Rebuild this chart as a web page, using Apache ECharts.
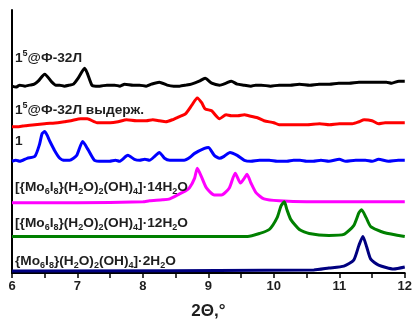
<!DOCTYPE html>
<html>
<head>
<meta charset="UTF-8">
<title>XRD</title>
<script src="https://cdn.jsdelivr.net/npm/echarts@6/dist/echarts.min.js"></script>
<style>
  body { margin: 0; background: #fff; }
  #root { width: 415px; height: 325px; }
</style>
</head>
<body>
<div id="root"></div>
<script>
// 2θ, intensity (arbitrary, offset per pattern)
var blackData = [[6.00,189],[6.06,188],[6.12,190],[6.20,189],[6.27,190],[6.34,191],[6.40,194],[6.50,201],[6.61,193],[6.67,190],[6.73,190],[6.80,189],[6.88,190],[6.94,191],[7.00,196],[7.11,207],[7.22,190],[7.28,189],[7.34,189],[7.45,190],[7.57,190],[7.65,189],[7.72,191],[7.85,190],[7.95,190],[8.05,189],[8.13,191],[8.25,193],[8.37,190],[8.47,189],[8.56,189],[8.66,190],[8.74,191],[8.86,194],[8.95,197],[9.05,192],[9.17,190],[9.27,192],[9.35,194],[9.44,191],[9.55,190],[9.65,189],[9.72,190],[9.81,190],[9.95,189],[10.08,190],[10.25,190],[10.39,191],[10.55,190],[10.69,191],[10.85,191],[10.99,192],[11.15,192],[11.30,193],[11.45,193],[11.60,193],[11.72,193],[11.80,192],[11.91,194],[12.00,194]];
var redData = [[6.00,148],[6.10,148],[6.20,149],[6.35,150],[6.50,151],[6.70,152],[6.80,153],[6.90,154],[7.05,156],[7.15,156],[7.30,152],[7.40,152],[7.50,152],[7.62,153],[7.75,155],[7.90,154],[8.05,154],[8.15,155],[8.25,154],[8.35,153],[8.45,155],[8.55,158],[8.65,161],[8.75,170],[8.83,177],[8.90,172],[8.95,166],[9.05,164],[9.17,156],[9.27,160],[9.35,159],[9.45,159],[9.55,160],[9.62,159],[9.75,157],[9.85,154],[10.00,152],[10.08,150],[10.25,150],[10.50,150],[10.70,151],[10.85,150],[11.00,151],[11.20,151],[11.30,153],[11.38,155],[11.50,154],[11.60,151],[11.70,152],[11.80,152],[12.00,152]];
var blueData = [[6.00,113],[6.06,114],[6.12,113],[6.23,116],[6.35,118],[6.42,130],[6.46,141],[6.50,143],[6.58,133],[6.65,124],[6.73,116],[6.80,114],[6.88,114],[6.94,116],[6.99,119],[7.08,133],[7.16,125],[7.26,114],[7.38,113],[7.49,113],[7.58,114],[7.64,113],[7.77,119],[7.87,115],[7.95,114],[8.03,115],[8.10,114],[8.18,118],[8.25,122],[8.33,116],[8.41,114],[8.52,114],[8.63,114],[8.72,117],[8.79,121],[8.94,126],[9.00,127],[9.09,119],[9.17,116],[9.24,118],[9.33,122],[9.44,119],[9.55,114],[9.65,113],[9.78,114],[9.93,114],[10.05,113],[10.20,113],[10.30,114],[10.40,114],[10.50,113],[10.60,113],[10.72,114],[10.84,113],[11.00,115],[11.10,113],[11.25,114],[11.40,114],[11.50,113],[11.60,115],[11.75,113],[11.90,114],[12.00,114]];
var magentaData = [[6.00,71],[7.00,71],[8.00,72],[8.10,73],[8.30,74],[8.41,75],[8.56,80],[8.65,83],[8.71,86],[8.79,96],[8.83,106],[8.89,98],[8.97,86],[9.09,79],[9.20,79],[9.32,86],[9.41,101],[9.49,91],[9.55,96],[9.59,100],[9.65,91],[9.73,81],[9.85,75],[10.08,73],[10.50,72],[12.00,72]];
var greenData = [[6.00,37],[9.60,37],[9.78,40],[9.93,44],[10.05,56],[10.11,68],[10.16,72],[10.20,64],[10.26,54],[10.39,44],[10.54,40],[10.84,38],[11.07,39],[11.22,48],[11.30,61],[11.34,64],[11.41,56],[11.48,47],[11.68,41],[12.00,37]];
var navyData = [[6.00,2],[10.61,3],[10.84,5],[11.07,7],[11.22,13],[11.30,28],[11.36,37],[11.42,26],[11.48,14],[11.60,8],[11.83,4],[12.00,6]];

var names = ['1⁵@Ф-32Л', '1⁵@Ф-32Л выдерж.', '1', '14H2O', '12H2O', '2H2O'];
var colors = ['#000000', '#ff0000', '#0000ff', '#ff00ff', '#008000', '#000080'];
var allData = [blackData, redData, blueData, magentaData, greenData, navyData];

var chart = echarts.init(document.getElementById('root'));

var series = allData.map(function (d, i) {
  return {
    name: names[i],
    type: 'line',
    data: d,
    showSymbol: false,
    silent: true,
    smooth: 0.2,
    lineStyle: { color: colors[i], width: 3 },
    z: 2 + i
  };
});

var txtColor = '#1e1e1e';
var fam = 'Liberation Sans';
var rich = {
  m: { fontSize: 13.7, fontWeight: 'bold', fontFamily: fam, color: txtColor, lineHeight: 18 },
  s: { fontSize: 9, fontWeight: 'bold', fontFamily: fam, color: txtColor, verticalAlign: 'bottom', lineHeight: 11 },
  p: { fontSize: 9, fontWeight: 'bold', fontFamily: fam, color: txtColor, verticalAlign: 'top', lineHeight: 11 }
};

function lab(text, y) {
  return {
    type: 'text',
    left: 15,
    top: y - 9,
    z: 20,
    style: { text: text, rich: rich, font: 'bold 13.7px "Liberation Sans"', fill: txtColor }
  };
}

// "}" can't sit inside a rich token, so it goes between tokens as plain text
var moHead = '{m|[{Mo}{s|6}{m|I}{s|8}}{m|(H}{s|2}{m|O)}{s|2}{m|(OH)}{s|4}';

chart.setOption({
  animation: false,
  grid: { left: 12, right: 9, top: 10, bottom: 49 },
  xAxis: {
    type: 'value',
    min: 6,
    max: 12,
    interval: 1,
    axisLine: { lineStyle: { color: '#000', width: 2 } },
    axisTick: { length: 5, lineStyle: { color: '#000', width: 1.5 } },
    minorTick: { show: true, splitNumber: 2, length: 5, lineStyle: { color: '#000', width: 1.5 } },
    splitLine: { show: false },
    axisLabel: { color: txtColor, fontSize: 13, fontWeight: 'bold', fontFamily: fam, margin: 7 },
    name: '2Θ,°',
    nameLocation: 'middle',
    nameGap: 30,
    nameTextStyle: { color: txtColor, fontSize: 17, fontWeight: 'bold', fontFamily: fam }
  },
  yAxis: {
    type: 'value',
    min: 0,
    max: 266,
    axisLine: { show: true, lineStyle: { color: '#000', width: 2 } },
    axisTick: { show: false },
    axisLabel: { show: false },
    splitLine: { show: false }
  },
  series: series,
  graphic: [
    lab('{m|1}{p|5}{m|@Ф-32Л}', 58),
    lab('{m|1}{p|5}{m|@Ф-32Л выдерж.}', 110),
    lab('{m|1}', 143),
    lab(moHead + '{m|]·14H}{s|2}{m|O}', 189),
    lab(moHead + '{m|]·12H}{s|2}{m|O}', 225),
    lab('{m|{Mo}{s|6}{m|I}{s|8}}{m|(H}{s|2}{m|O)}{s|2}{m|(OH)}{s|4}{m|]·2H}{s|2}{m|O}', 263)
  ]
});
</script>
</body>
</html>
